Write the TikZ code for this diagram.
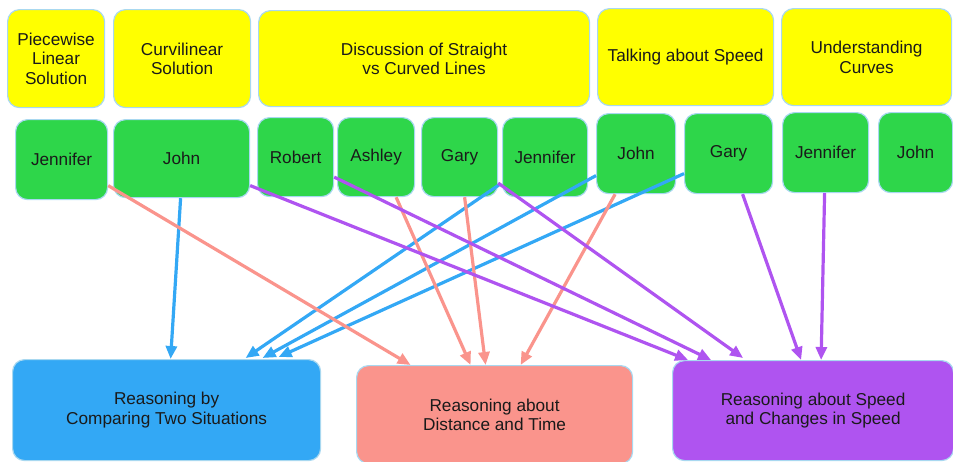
\documentclass[tikz,border=0pt]{standalone}
\usepackage{fontspec}
\setmainfont{Liberation Sans}
\usetikzlibrary{arrows.meta}
\definecolor{ybox}{HTML}{FFFF00}
\definecolor{gbox}{HTML}{2ED64A}
\definecolor{bbox}{HTML}{33A8F5}
\definecolor{sbox}{HTML}{FA948C}
\definecolor{pbox}{HTML}{AF54F0}
\definecolor{edge}{HTML}{A8D8F0}
\definecolor{txt}{HTML}{1A1A1A}
\tikzset{
  box/.style={draw=edge, line width=1.2pt, rounded corners=12pt, anchor=north west,
    align=center, text=txt, inner sep=0pt,
    font=\fontsize{17.2}{19.5}\selectfont},
  topic/.style={box, fill=ybox},
  person/.style={box, fill=gbox},
  result/.style={box},
  link/.style={line width=3.2pt, -{Triangle[length=13pt,width=11pt]}},
  lb/.style={link, draw=bbox},
  ls/.style={link, draw=sbox},
  lp/.style={link, draw=pbox},
}
\begin{document}
\begin{tikzpicture}[x=1pt,y=-1pt]
\useasboundingbox (0,0) rectangle (953,461);
% topics
\node[topic, minimum width=97pt, minimum height=98pt] (t1) at (7,9) {Piecewise\\Linear\\Solution};
\node[topic, minimum width=137pt, minimum height=98pt] (t2) at (113,9) {Curvilinear\\Solution};
\node[topic, minimum width=331pt, minimum height=96pt] (t3) at (258,10) {Discussion of Straight\\vs Curved Lines};
\node[topic, minimum width=176pt, minimum height=97pt] (t4) at (597,8) {Talking about Speed};
\node[topic, minimum width=170pt, minimum height=97pt] (t5) at (781,8) {Understanding\\Curves};
% people
\node[person, minimum width=92pt, minimum height=80pt] (g1) at (15,119) {Jennifer};
\node[person, minimum width=136pt, minimum height=78pt] (g2) at (113,119) {John};
\node[person, minimum width=76pt, minimum height=79pt] (g3) at (257,117) {Robert};
\node[person, minimum width=77pt, minimum height=79pt] (g4) at (337,117) {Ashley};
\node[person, minimum width=76pt, minimum height=79pt] (g5) at (421,117) {Gary};
\node[person, minimum width=85pt, minimum height=79pt] (g6) at (502,117) {Jennifer};
\node[person, minimum width=79pt, minimum height=80pt] (g7) at (596,113) {John};
\node[person, minimum width=88pt, minimum height=80pt] (g8) at (684,113) {Gary};
\node[person, minimum width=86pt, minimum height=80pt] (g9) at (782,112) {Jennifer};
\node[person, minimum width=74pt, minimum height=80pt] (g10) at (878,112) {John};
% results
\node[result, fill=bbox, minimum width=308pt, minimum height=101pt] (rb) at (12,359) {Reasoning by\\Comparing Two Situations};
\node[result, fill=sbox, minimum width=276pt, minimum height=98pt] (rs) at (356,365) {Reasoning about\\Distance and Time};
\node[result, fill=pbox, minimum width=281pt, minimum height=100pt] (rp) at (672,360) {Reasoning about Speed\\and Changes in Speed};
% blue links
\draw[lb] ([xshift=-1pt]g2.south) -- ([xshift=4pt]rb.north);
\draw[lb] ([shift={(-2,-13)}]g6.south west) -- ([shift={(79,-1)}]rb.north);
\draw[lb] ([shift={(0,22)}]g7.west) -- ([shift={(96,-1)}]rb.north);
\draw[lb] ([shift={(0,20)}]g8.west) -- ([shift={(112,-2)}]rb.north);
% salmon links
\draw[ls] ([shift={(0,26)}]g1.east) -- ([xshift=-84pt]rs.north);
\draw[ls] ([xshift=20pt]g4.south) -- ([xshift=-24pt]rs.north);
\draw[ls] ([xshift=5pt]g5.south) -- ([xshift=-9pt]rs.north);
\draw[ls] ([xshift=-21pt]g7.south) -- ([xshift=26pt]rs.north);
% purple links
\draw[lp] ([shift={(0,27)}]g2.east) -- ([xshift=-125pt]rp.north);
\draw[lp] ([shift={(0,20)}]g3.east) -- ([xshift=-102pt]rp.north);
\draw[lp] ([shift={(0,26)}]g5.east) -- ([shift={(-70,-2)}]rp.north);
\draw[lp] ([xshift=14pt]g8.south) -- ([xshift=-12pt]rp.north);
\draw[lp] ([xshift=-1pt]g9.south) -- ([xshift=8pt]rp.north);
\end{tikzpicture}
\end{document}
